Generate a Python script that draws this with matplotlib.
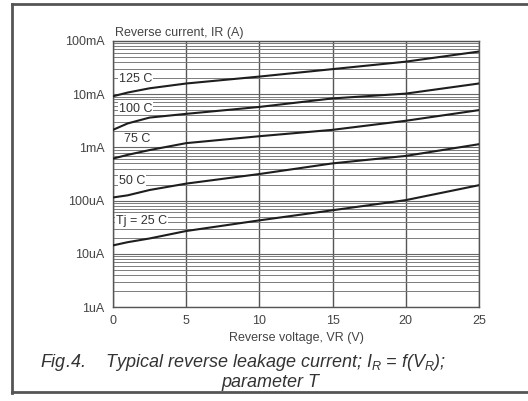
import matplotlib.pyplot as plt
import numpy as np
from matplotlib.lines import Line2D
from matplotlib.ticker import LogLocator, FixedLocator, NullFormatter

plt.rcParams['font.family'] = ['Liberation Sans', 'DejaVu Sans']
plt.rcParams['mathtext.fontset'] = 'custom'
plt.rcParams['mathtext.rm'] = 'Liberation Sans'
plt.rcParams['mathtext.it'] = 'Liberation Sans:italic'

# reverse voltage (V)
vr = [0, 1, 2.5, 5, 10, 15, 20, 25]

# log10 of reverse current (A) for each junction temperature
ir_125 = [-2.04, -1.97, -1.89, -1.80, -1.67, -1.53, -1.39, -1.20]
ir_100 = [-2.67, -2.55, -2.44, -2.37, -2.24, -2.08, -1.99, -1.80]
ir_75 = [-3.21, -3.14, -3.05, -2.92, -2.79, -2.67, -2.50, -2.30]
ir_50 = [-3.94, -3.90, -3.80, -3.68, -3.50, -3.30, -3.16, -2.94]
ir_25 = [-4.84, -4.78, -4.71, -4.57, -4.37, -4.18, -3.99, -3.71]

curves = [ir_125, ir_100, ir_75, ir_50, ir_25]
curve_labels = ["125 C", "100 C", "75 C", "50 C", "Tj = 25 C"]
label_pos = [(0.4, 10**-1.71), (0.4, 10**-2.27), (0.75, 10**-2.85), (0.4, 10**-3.63), (0.2, 10**-4.38)]

y_ticks = [1e-6, 1e-5, 1e-4, 1e-3, 1e-2, 1e-1]
y_ticklabels = ["1uA", "10uA", "100uA", "1mA", "10mA", "100mA"]
x_ticks = [0, 5, 10, 15, 20, 25]

fig = plt.figure(figsize=(5.28, 4.01), dpi=100)
ax = fig.add_axes([0.214, 0.234, 0.693, 0.664])

for ir in curves:
    ax.plot(vr, 10 ** np.array(ir), color="#1e1e1e", lw=1.5, zorder=4)

for txt, (x, y) in zip(curve_labels, label_pos):
    ax.text(x, y, txt, fontsize=9, color="#333333", va="center", ha="left", zorder=5,
            bbox=dict(facecolor="white", edgecolor="none", pad=0.6))

ax.set_yscale("log")
ax.set_xlim(0, 25)
ax.set_ylim(1e-6, 1e-1)
ax.yaxis.set_major_locator(FixedLocator(y_ticks))
ax.set_yticklabels(y_ticklabels)
ax.yaxis.set_minor_locator(LogLocator(base=10, subs=np.arange(2, 10)))
ax.yaxis.set_minor_formatter(NullFormatter())
ax.set_xticks(x_ticks)

ax.grid(which="major", axis="x", color="#555555", lw=1.0)
ax.grid(which="major", axis="y", color="#666666", lw=0.8)
ax.grid(which="minor", axis="y", color="#7c7c7c", lw=0.7)
ax.tick_params(which="both", length=0, labelsize=9, colors="#444444", pad=6)
for s in ax.spines.values():
    s.set_color("#555555")
    s.set_linewidth(1.0)

ax.set_xlabel("Reverse voltage, VR (V)", fontsize=9, color="#444444", labelpad=3)
fig.text(0.218, 0.917, "Reverse current, IR (A)", fontsize=9, color="#444444", va="center")

fig.text(0.075, 0.097, "Fig.4.    Typical reverse leakage current; $I_R$ = f($V_R$);",
         fontsize=13, style="italic", color="#333333", va="center", ha="left")
fig.text(0.512, 0.047, "parameter T", fontsize=13, style="italic", color="#333333",
         va="center", ha="center")

# outer frame
for xs, ys in [([0.023, 0.023], [0.02, 0.99]), ([0.023, 1.0], [0.99, 0.99]),
               ([0.023, 1.0], [0.022, 0.022])]:
    fig.add_artist(Line2D(xs, ys, color="#555555", lw=2))

fig.savefig("out.png", dpi=100)
